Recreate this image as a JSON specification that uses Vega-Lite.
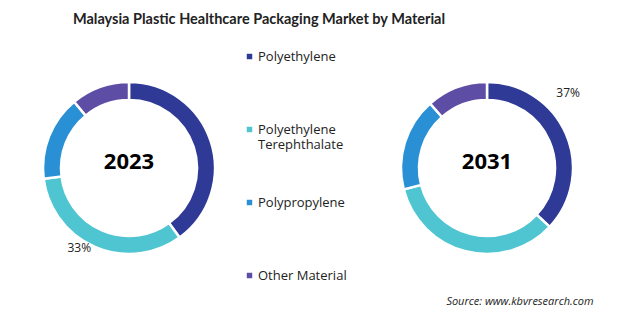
{
  "$schema": "https://vega.github.io/schema/vega-lite/v6.json",
  "width": 620,
  "height": 306,
  "autosize": {"type": "none"},
  "padding": {"top": 15, "left": 0, "right": 0, "bottom": 0},
  "background": "white",
  "config": {"view": {"stroke": null}},
  "title": {
    "text": "Malaysia  Plastic Healthcare Packaging Market by Material",
    "font": "Lato",
    "fontSize": 14.5,
    "fontWeight": "bold",
    "color": "#222222",
    "anchor": "middle",
    "frame": "group",
    "dx": -51,
    "offset": -12
  },
  "data": {
    "values": [
      {"year": "2023", "material": "Polyethylene", "share": 0.40},
      {"year": "2023", "material": "Polyethylene Terephthalate", "share": 0.33},
      {"year": "2023", "material": "Polypropylene", "share": 0.16},
      {"year": "2023", "material": "Other Material", "share": 0.11},
      {"year": "2031", "material": "Polyethylene", "share": 0.37},
      {"year": "2031", "material": "Polyethylene Terephthalate", "share": 0.34},
      {"year": "2031", "material": "Polypropylene", "share": 0.175},
      {"year": "2031", "material": "Other Material", "share": 0.115}
    ]
  },
  "transform": [{"stack": "share", "groupby": ["year"], "as": ["s0", "s1"]}],
  "encoding": {
    "x": {
      "field": "year",
      "type": "nominal",
      "scale": {"type": "point", "domain": ["2023", "2031"], "range": [129, 487], "padding": 0},
      "axis": {
        "title": "Source: www.kbvresearch.com",
        "labels": false,
        "ticks": false,
        "domain": false,
        "grid": false,
        "titleFont": "Open Sans",
        "titleFontSize": 11,
        "titleFontStyle": "italic",
        "titleFontWeight": "normal",
        "titleColor": "#222222",
        "titleAnchor": "end",
        "titleAlign": "right",
        "titleBaseline": "middle",
        "titleX": 593,
        "titleY": -20
      }
    }
  },
  "layer": [
    {
      "mark": {"type": "arc", "innerRadius": 68, "outerRadius": 86, "stroke": "white", "strokeWidth": 2.5},
      "encoding": {
        "theta": {"field": "s0", "type": "quantitative", "scale": {"domain": [0, 1]}},
        "theta2": {"field": "s1"},
        "color": {
          "field": "material",
          "type": "nominal",
          "scale": {
            "domain": ["Polyethylene", "Polyethylene Terephthalate", "Polypropylene", "Other Material"],
            "range": ["#2E3A95", "#4EC5D0", "#2A90D5", "#5E4DA5"]
          },
          "legend": {
            "title": null,
            "orient": "none",
            "legendX": 243,
            "legendY": 35,
            "direction": "vertical",
            "symbolType": "square",
            "symbolSize": 30,
            "symbolStrokeWidth": 0,
            "labelFont": "Open Sans",
            "labelFontSize": 13,
            "labelColor": "#222222",
            "labelOffset": 2,
            "labelLimit": 0,
            "rowPadding": 44,
            "gridAlign": "all",
            "labelExpr": "datum.label == 'Polyethylene Terephthalate' ? ['Polyethylene', 'Terephthalate'] : datum.label",
            "encode": {
              "labels": {
                "update": {
                  "dy": {"signal": "datum.label == 'Polyethylene Terephthalate' ? 7.5 : 0"}
                }
              }
            }
          }
        }
      }
    },
    {
      "transform": [{"filter": "datum.material == 'Polyethylene'"}],
      "mark": {"type": "text", "font": "Open Sans", "fontSize": 22, "fontWeight": "bold", "color": "#000000", "dy": -6},
      "encoding": {"text": {"field": "year", "type": "nominal"}}
    },
    {
      "transform": [{"filter": "datum.year == '2023'"}],
      "mark": {"type": "text", "font": "Open Sans", "fontSize": 12, "color": "#222222", "radius": 95, "dx": -12, "dy": -7},
      "encoding": {
        "theta": {"field": "share", "type": "quantitative", "stack": true},
        "order": {"field": "s0", "type": "quantitative"},
        "text": {
          "condition": {"test": "datum.material == 'Polyethylene Terephthalate'", "field": "share", "type": "quantitative", "format": ".0%"},
          "value": ""
        }
      }
    },
    {
      "transform": [{"filter": "datum.year == '2031'"}],
      "mark": {"type": "text", "font": "Open Sans", "fontSize": 12, "color": "#222222", "radius": 95, "dx": -6, "dy": -37},
      "encoding": {
        "theta": {"field": "share", "type": "quantitative", "stack": true},
        "order": {"field": "s0", "type": "quantitative"},
        "text": {
          "condition": {"test": "datum.material == 'Polyethylene'", "field": "share", "type": "quantitative", "format": ".0%"},
          "value": ""
        }
      }
    }
  ]
}
